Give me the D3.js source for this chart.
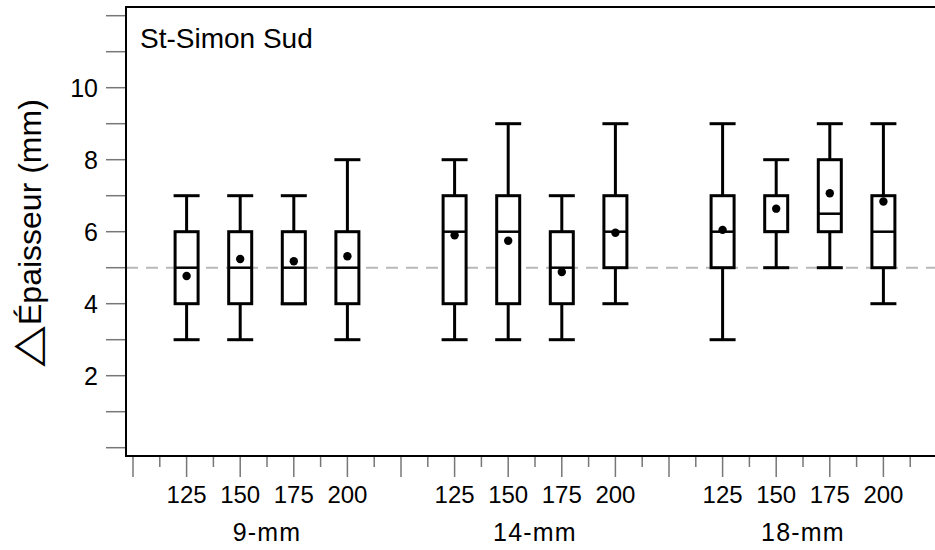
<!DOCTYPE html>
<html>
<head>
<meta charset="utf-8">
<script src="https://cdn.jsdelivr.net/npm/d3@7"></script>
<style>
  body { margin: 0; background: #fff; }
  text { font-family: "Liberation Sans", Arial, sans-serif; }
</style>
</head>
<body>
<div id="chart"></div>
<script>
document.addEventListener('DOMContentLoaded', function() {
    const width = 935;
    const height = 550;

    // groups (needle size) and spacing values inside each group
    const groups = ['9-mm', '14-mm', '18-mm'];
    const sizes = ['125', '150', '175', '200'];

    // box statistics, group by group, in the order of sizes
    const whiskerLow = [3, 3, 4, 3, 3, 3, 3, 4, 3, 5, 5, 4];
    const q1 = [4, 4, 4, 4, 4, 4, 4, 5, 5, 6, 6, 5];
    const median = [5, 5, 5, 5, 6, 6, 5, 6, 6, 6, 6.5, 6];
    const q3 = [6, 6, 6, 6, 7, 7, 6, 7, 7, 7, 8, 7];
    const whiskerHigh = [7, 7, 7, 8, 8, 9, 7, 9, 9, 8, 9, 9];
    const means = [4.77, 5.24, 5.18, 5.32, 5.90, 5.75, 4.88, 5.97, 6.05, 6.64, 7.07, 6.84];

    const yTicks = d3.range(0, 13);
    const yLabels = [2, 4, 6, 8, 10];
    const refValue = 5;
    const panelLabel = 'St-Simon Sud';

    const boxes = [];
    groups.forEach((g, gi) => {
        sizes.forEach((s, si) => {
            const k = gi * sizes.length + si;
            boxes.push({
                group: g, size: s,
                slot: 1 + gi * (sizes.length + 1) + si,
                low: whiskerLow[k], q1: q1[k], med: median[k],
                q3: q3[k], high: whiskerHigh[k], mean: means[k]
            });
        });
    });

    const left = 126, top = 7, bottom = 456, right = 945;

    const x = d3.scaleLinear().domain([0, 15]).range([133, 937]);
    const y = d3.scaleLinear().domain([0, 10]).range([447.7, 87.7]);

    const svg = d3.select('#chart')
        .append('svg')
        .attr('width', width)
        .attr('height', height);

    // reference line
    svg.append('line')
        .attr('x1', left).attr('x2', right)
        .attr('y1', y(refValue)).attr('y2', y(refValue))
        .attr('stroke', '#b8b8b8')
        .attr('stroke-width', 2)
        .attr('stroke-dasharray', '12,8');

    // y ticks
    svg.selectAll('line.ytick')
        .data(yTicks)
        .enter()
        .append('line')
        .attr('class', 'ytick')
        .attr('x1', left - 20).attr('x2', left)
        .attr('y1', d => y(d)).attr('y2', d => y(d))
        .attr('stroke', '#777')
        .attr('stroke-width', 1.5);

    svg.selectAll('text.ylabel')
        .data(yLabels)
        .enter()
        .append('text')
        .attr('class', 'ylabel')
        .attr('x', left - 28)
        .attr('y', d => y(d))
        .attr('dy', '0.36em')
        .attr('text-anchor', 'end')
        .attr('font-size', '25px')
        .text(d => d);

    // x ticks, long at each slot and short half way
    const xTicks = d3.range(0, 15.5, 0.5);
    svg.selectAll('line.xtick')
        .data(xTicks)
        .enter()
        .append('line')
        .attr('class', 'xtick')
        .attr('x1', d => x(d)).attr('x2', d => x(d))
        .attr('y1', bottom)
        .attr('y2', d => bottom + (d % 1 === 0 ? 21 : 11))
        .attr('stroke', '#777')
        .attr('stroke-width', 1.5);

    svg.selectAll('text.xlabel')
        .data(boxes)
        .enter()
        .append('text')
        .attr('class', 'xlabel')
        .attr('x', d => x(d.slot))
        .attr('y', 503)
        .attr('text-anchor', 'middle')
        .attr('font-size', '24px')
        .text(d => d.size);

    svg.selectAll('text.glabel')
        .data(groups)
        .enter()
        .append('text')
        .attr('class', 'glabel')
        .attr('x', (d, i) => x(1 + i * (sizes.length + 1) + (sizes.length - 1) / 2))
        .attr('y', 541)
        .attr('text-anchor', 'middle')
        .attr('font-size', '25px')
        .attr('letter-spacing', '1.2px')
        .text(d => d);

    // boxes
    const bw = 26;
    const bg = svg.selectAll('g.box')
        .data(boxes)
        .enter()
        .append('g')
        .attr('class', 'box')
        .attr('transform', d => `translate(${x(d.slot)},0)`);

    bg.append('line')
        .attr('x1', 0).attr('x2', 0)
        .attr('y1', d => y(d.low)).attr('y2', d => y(d.high))
        .attr('stroke', '#000').attr('stroke-width', 3);

    bg.append('line')
        .attr('x1', -bw / 2).attr('x2', bw / 2)
        .attr('y1', d => y(d.low)).attr('y2', d => y(d.low))
        .attr('stroke', '#000').attr('stroke-width', 3);

    bg.append('line')
        .attr('x1', -bw / 2).attr('x2', bw / 2)
        .attr('y1', d => y(d.high)).attr('y2', d => y(d.high))
        .attr('stroke', '#000').attr('stroke-width', 3);

    bg.append('rect')
        .attr('x', -bw / 2 + 1.5)
        .attr('width', bw - 3)
        .attr('y', d => y(d.q3))
        .attr('height', d => y(d.q1) - y(d.q3))
        .attr('fill', '#fff')
        .attr('stroke', '#000')
        .attr('stroke-width', 3);

    bg.append('line')
        .attr('x1', -bw / 2 + 1.5).attr('x2', bw / 2 - 1.5)
        .attr('y1', d => y(d.med)).attr('y2', d => y(d.med))
        .attr('stroke', '#000').attr('stroke-width', 2.5);

    bg.append('circle')
        .attr('cx', 0)
        .attr('cy', d => y(d.mean))
        .attr('r', 4.2)
        .attr('fill', '#000');

    // frame
    svg.append('path')
        .attr('d', `M${right},${top}H${left}V${bottom}H${right}`)
        .attr('fill', 'none')
        .attr('stroke', '#000')
        .attr('stroke-width', 2);

    svg.append('text')
        .attr('x', 140)
        .attr('y', 48)
        .attr('font-size', '28px')
        .text(panelLabel);

    // y axis title: triangle symbol, then the words
    svg.append('text')
        .attr('transform', 'translate(40,347) rotate(-90) scale(1.2,0.9)')
        .attr('text-anchor', 'middle')
        .attr('font-family', 'DejaVu Sans')
        .attr('font-size', '44px')
        .text('△');
    svg.append('text')
        .attr('transform', 'translate(41,325) rotate(-90)')
        .attr('text-anchor', 'start')
        .attr('font-size', '32px')
        .text('Épaisseur (mm)');
});
</script>
</body>
</html>
